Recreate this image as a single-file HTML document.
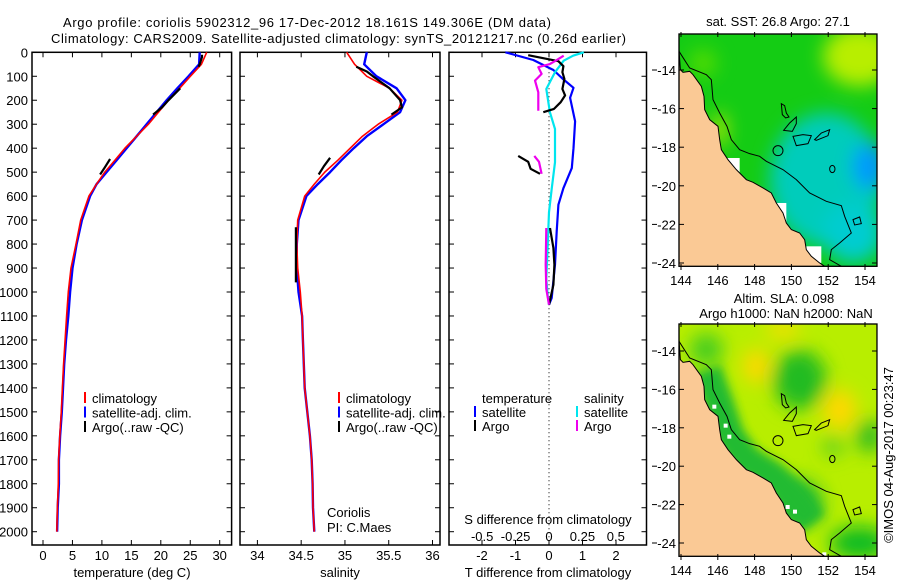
<!DOCTYPE html>
<html><head><meta charset="utf-8">
<style>
html,body{margin:0;padding:0;background:#fff;}
svg{display:block;font-family:"Liberation Sans",Arial,sans-serif;}
text{font-size:13px;fill:#000;}
</style></head>
<body>
<svg id="fig" width="900" height="580" viewBox="0 0 900 580" xmlns="http://www.w3.org/2000/svg">
<defs>
<filter id="blur" x="-50%" y="-50%" width="200%" height="200%"><feGaussianBlur stdDeviation="28"/></filter>
<filter id="blur2" x="-50%" y="-50%" width="200%" height="200%"><feGaussianBlur stdDeviation="14"/></filter>
<clipPath id="mclip"><rect x="118" y="103" width="594" height="697"/></clipPath>
</defs>
<text x="63" y="27" textLength="488">Argo profile: coriolis 5902312_96 17-Dec-2012 18.161S 149.306E (DM data)</text>
<text x="51" y="43" textLength="575">Climatology: CARS2009. Satellite-adjusted climatology: synTS_20121217.nc (0.26d earlier)</text>
<g id="panels"></g>
<g id="maps"></g>
</svg>
<script>
// ---------- data ----------
const depthClim = [0,50,100,150,200,250,300,350,400,450,500,550,600,700,800,900,1000,1100,1200,1300,1400,1500,1600,1700,1800,1900,2000];
const tempClim  = [27.8,26.9,25.0,23.2,21.3,19.6,17.9,15.9,13.9,12.2,10.5,9.1,7.8,6.4,5.6,4.75,4.3,4.0,3.75,3.5,3.3,3.1,2.85,2.65,2.6,2.45,2.35];
const tempSat   = [26.6,26.5,24.7,22.8,21.0,19.3,17.6,15.9,14.2,12.5,10.8,9.1,8.0,6.6,5.7,5.0,4.6,4.3,3.9,3.6,3.4,3.2,2.9,2.7,2.7,2.5,2.4];
const salClim   = [35.02,35.11,35.25,35.51,35.65,35.60,35.38,35.20,35.06,34.92,34.77,34.65,34.54,34.46,34.45,34.46,34.49,34.51,34.52,34.53,34.54,34.57,34.60,34.62,34.63,34.635,34.65];
const salSat    = [35.25,35.22,35.36,35.59,35.69,35.63,35.44,35.25,35.10,34.96,34.83,34.69,34.56,34.47,34.45,34.45,34.47,34.51,34.52,34.53,34.54,34.57,34.60,34.62,34.63,34.635,34.65];
const depthArgo = [10,20,50,60,null,150,200,230,260,null,445,480,510];
const tempArgo  = [27.0,27.0,26.6,26.4,null,23.3,21.3,20.2,18.7,null,11.4,10.5,9.7];
const depthArgoS= [60,80,100,150,200,230,260,null,440,475,510,null,730,850,960];
const salArgo   = [35.13,35.25,35.32,35.51,35.63,35.65,35.53,null,34.83,34.76,34.70,null,34.44,34.44,34.44];
const depthDT   = [0,32,74,113,148,190,288,400,483,567,636,747,886,1025,1053];
const dTsat     = [-1.3,-0.47,0.13,0.43,0.73,0.63,0.78,0.73,0.68,0.43,0.28,0.23,0.18,0.08,0.0];
const depthDS   = [0,14,35,83,153,250,320,459,570,667,806,945,1015,1053];
const dSsat     = [0.26,0.18,0.11,0.045,-0.02,0.007,0.045,0.045,0.02,0.0,-0.01,-0.02,-0.01,0.0];
const depthDTA  = [12,37,58,83,111,153,180,208,236,250,null,432,457,486,507,null,733,816,886,970,1053];
const dTargo    = [-0.62,0.28,0.43,0.40,0.46,0.40,0.48,0.35,0.15,-0.17,null,-0.92,-0.62,-0.55,-0.27,null,0.03,0.13,0.16,0.13,0.0];
const depthDSA  = [14,35,49,62,90,118,167,244,null,432,457,507,null,733,886,987,1053];
const dSargo    = [0.11,0.05,0.007,-0.08,-0.055,-0.105,-0.08,-0.08,null,-0.11,-0.075,-0.055,null,-0.02,-0.025,-0.02,0.0];
const depthTicks = [0,100,200,300,400,500,600,700,800,900,1000,1100,1200,1300,1400,1500,1600,1700,1800,1900,2000];
const tempTicks = [0,5,10,15,20,25,30];
const salTicks  = [34,34.5,35,35.5,36];
const salTickLabels = ["34","34.5","35","35.5","36"];
const dTTicks = [-2,-1,0,1,2];
const dSTicks = [-0.5,-0.25,0,0.25,0.5];
const dSTickLabels = ["-0.5","-0.25","0","0.25","0.5"];
const latTicks = [-14,-16,-18,-20,-22,-24];
const lonTicks = [144,146,148,150,152,154];

// ---------- axes ----------
const yD = d => 52.3 + d*0.2397;
const xT = t => 43 + t*5.89;
const xS = s => 257.4 + (s-34)*87.55;
const xdT = v => 549 + v*33.5;
const xdS = v => 549 + v*133.7;
const NS='http://www.w3.org/2000/svg';
const P=document.getElementById('panels');
function mk(tag,attrs,parent){const e=document.createElementNS(NS,tag);for(const k in attrs)e.setAttribute(k,attrs[k]);(parent||P).appendChild(e);return e;}
function txt(x,y,s,anchor,parent){const e=mk('text',{x:x,y:y,'text-anchor':anchor||'start'},parent);e.textContent=s;return e;}

const panels=[{x0:32,x1:231.6,name:'temperature-panel'},{x0:240,x1:440,name:'salinity-panel'},{x0:449,x1:646.5,name:'difference-panel'}];
const yTop=52.3,yBot=545;
panels.forEach((p,i)=>{
  const f=mk('rect',{x:p.x0,y:yTop,width:p.x1-p.x0,height:yBot-yTop,fill:'none',stroke:'#000','stroke-width':1.5});
  
  
  depthTicks.forEach(d=>{
    mk('line',{x1:p.x0,x2:p.x0+5,y1:yD(d),y2:yD(d),stroke:'#000'});
    mk('line',{x1:p.x1-5,x2:p.x1,y1:yD(d),y2:yD(d),stroke:'#000'});
  });
});
depthTicks.forEach(d=>{
  const t=txt(28,yD(d)+5,String(d),'end');
  
  
});
function xticks(vals,fx,labels,ly){
  vals.forEach((v,i)=>{
    const x=fx(v);
    mk('line',{x1:x,x2:x,y1:yTop,y2:yTop+5,stroke:'#000'});
    mk('line',{x1:x,x2:x,y1:yBot-5,y2:yBot,stroke:'#000'});
    if(labels){const t=txt(x,ly,labels[i],'middle');
      
      }
  });
}
xticks(tempTicks,xT,tempTicks.map(String),560);
xticks(salTicks,xS,salTickLabels,560);
xticks(dTTicks,xdT,dTTicks.map(String),560);
dSTicks.forEach((v,i)=>{const t=txt(xdS(v),541,dSTickLabels[i],'middle');
  
  });
let t;
t=txt(132,577,'temperature (deg C)','middle');
t=txt(340,577,'salinity','middle');
t=txt(548,577,'T difference from climatology','middle');
t=txt(548,524,'S difference from climatology','middle');
t=txt(327,517,'Coriolis');
t=txt(327,532,'PI: C.Maes');

// zero dotted line
const z=mk('line',{x1:xdT(0),x2:xdT(0),y1:yTop,y2:yBot-5,stroke:'#000','stroke-dasharray':'1,3'});



function series(depths,vals,fx,color,w,name){
  let d='',pen=false;
  depths.forEach((dp,i)=>{
    if(dp===null||vals[i]===null){pen=false;return;}
    d+=(pen?'L':'M')+fx(vals[i]).toFixed(1)+','+yD(dp).toFixed(1);pen=true;
  });
  const e=mk('path',{d:d,fill:'none',stroke:color,'stroke-width':w,'stroke-linejoin':'round'});
  
  
}
series(depthClim,tempSat,xT,'#0000ff',2.4,'temp-satellite-line');
series(depthClim,tempClim,xT,'#ff0000',1.6,'temp-climatology-line');
series(depthArgo,tempArgo,xT,'#000',2.2,'temp-argo-line');
series(depthClim,salSat,xS,'#0000ff',2.4,'sal-satellite-line');
series(depthClim,salClim,xS,'#ff0000',1.6,'sal-climatology-line');
series(depthArgoS,salArgo,xS,'#000',2.2,'sal-argo-line');
series(depthDT,dTsat,xdT,'#0000ff',2.2,'tdiff-satellite-line');
series(depthDS,dSsat,xdS,'#00e5ee',2.2,'sdiff-satellite-line');
series(depthDTA,dTargo,xdT,'#000',2.2,'tdiff-argo-line');
series(depthDSA,dSargo,xdS,'#ee00ee',2.2,'sdiff-argo-line');

function legItem(x,y,color,label,name){
  const g=mk('g',{});
  
  
  mk('line',{x1:x,x2:x,y1:y-11,y2:y,stroke:color,'stroke-width':2},g);
  txt(x+7,y,label,'start',g);
}
[[85,'climatology','#ff0000'],[85,'satellite-adj. clim.','#0000ff'],[85,'Argo(..raw -QC)','#000']].forEach((a,i)=>legItem(a[0],403+i*14.5,a[2],a[1],'temp-legend-entry'));
[[339,'climatology','#ff0000'],[339,'satellite-adj. clim.','#0000ff'],[339,'Argo(..raw -QC)','#000']].forEach((a,i)=>legItem(a[0],403+i*14.5,a[2],a[1],'sal-legend-entry'));
t=txt(482,403,'temperature');
t=txt(584,403,'salinity');
legItem(475,417,'#0000ff','satellite','tdiff-legend-satellite');
legItem(475,431,'#000','Argo','tdiff-legend-argo');
legItem(577,417,'#00e5ee','satellite','sdiff-legend-satellite');
legItem(577,431,'#ee00ee','Argo','sdiff-legend-argo');

// ---------- maps ----------
const M=document.getElementById('maps');
const land="118,150 122,210 130,218 150,215 160,225 185,260 193,290 195,330 210,360 235,380 240,420 245,450 265,480 290,510 320,540 340,548 370,565 395,580 410,610 430,640 440,670 455,690 480,700 495,720 500,750 515,770 540,790 555,800 118,800";
const shelf="118,155 150,205 200,225 215,240 220,300 240,340 262,380 275,420 300,450 330,462 360,470 380,485 430,510 470,540 510,580 560,605 605,618 615,650 635,700 600,730 575,750 570,780 605,800";
function drawMap(oy,type,name){
  const g=mk('g',{transform:`translate(679,${oy}) scale(0.3333) translate(-118,-103)`},M);
  
  
  const c=mk('g',{'clip-path':'url(#mclip)'},g);
  if(type===1){
    mk('rect',{x:118,y:103,width:594,height:697,fill:'#14cc14'},c);
    const b=mk('g',{filter:'url(#blur)'},c);
    mk('ellipse',{cx:660,cy:170,rx:110,ry:90,fill:'#b8ee00'},b);
    mk('ellipse',{cx:190,cy:190,rx:40,ry:40,fill:'#55dd00'},b);
    mk('ellipse',{cx:560,cy:540,rx:170,ry:200,fill:'#00ccbb'},b);
    mk('ellipse',{cx:640,cy:700,rx:90,ry:90,fill:'#00ccd0'},b);
    mk('ellipse',{cx:690,cy:500,rx:50,ry:70,fill:'#0099ff'},b);
    mk('ellipse',{cx:240,cy:390,rx:18,ry:50,fill:'#ddee00'},b);
    mk('rect',{x:255,y:475,width:45,height:45,fill:'#fff'},c);
    mk('rect',{x:410,y:610,width:30,height:60,fill:'#fff'},c);
    mk('rect',{x:500,y:740,width:45,height:50,fill:'#fff'},c);
  } else {
    mk('rect',{x:118,y:103,width:594,height:697,fill:'#b8ee00'},c);
    const b=mk('g',{filter:'url(#blur)'},c);
    mk('ellipse',{cx:350,cy:230,rx:40,ry:50,fill:'#ffd800'},b);
    mk('ellipse',{cx:430,cy:120,rx:50,ry:30,fill:'#eee000'},b);
    mk('ellipse',{cx:600,cy:360,rx:50,ry:60,fill:'#ffd800'},b);
    mk('ellipse',{cx:480,cy:270,rx:80,ry:90,fill:'#22bb22'},b);
    mk('ellipse',{cx:200,cy:180,rx:50,ry:50,fill:'#44cc22'},b);
    mk('ellipse',{cx:690,cy:440,rx:40,ry:50,fill:'#33bb22'},b);
    mk('ellipse',{cx:580,cy:470,rx:30,ry:30,fill:'#55cc22'},b);
    mk('ellipse',{cx:660,cy:760,rx:90,ry:50,fill:'#11bb22'},b);
    mk('ellipse',{cx:470,cy:640,rx:80,ry:70,fill:'#22bb33'},b);
    const b2=mk('g',{filter:'url(#blur2)'},c);
    mk('polyline',{points:"200,240 240,350 270,440 320,510 400,560 460,620 520,700",fill:'none',stroke:'#22bb33','stroke-width':90},b2);
    [[218,345],[252,402],[263,435],[438,646],[460,660],[548,788]].forEach(p=>mk('rect',{x:p[0],y:p[1],width:12,height:12,fill:'#fff'},c));
  }
  mk('polygon',{points:land,fill:'#fac995'},c);
  mk('polyline',{points:land.split(' ').slice(0,-1).join(' '),fill:'none',stroke:'#000','stroke-width':3},c);
  mk('polyline',{points:shelf,fill:'none',stroke:'#000','stroke-width':3},c);
  const reefs=["425,312 435,318 440,340 448,352 438,355 428,345","432,392 450,370 470,352 470,372 458,395","460,410 490,405 515,408 505,432 470,438","525,420 545,400 570,390 565,408 530,422","640,660 660,652 665,672 645,676"];
  reefs.forEach(r=>mk('polygon',{points:r,fill:'none',stroke:'#000','stroke-width':3},c));
  mk('circle',{cx:415,cy:453,r:15,fill:'none',stroke:'#000','stroke-width':3},c);
  mk('ellipse',{cx:578,cy:508,rx:8,ry:11,fill:'none',stroke:'#000','stroke-width':3},c);
  mk('rect',{x:118,y:103,width:594,height:697,fill:'none',stroke:'#000','stroke-width':4},g);
  const yL=lat=>oy+(oy===34?36:27)+(-14-lat)*(oy===34?19.3:19.2);
  const xL=lon=>681+(lon-144)*18.4;
  latTicks.forEach(l=>{
    const y=yL(l);
    mk('line',{x1:679,x2:684,y1:y,y2:y,stroke:'#000'},M);
    mk('line',{x1:872,x2:877,y1:y,y2:y,stroke:'#000'},M);
    mk('line',{x1:652,x2:657,y1:y,y2:y,stroke:'#000'},M);
    const tt=txt(676,y+5,String(l),'end',M);
    
    
  });
  lonTicks.forEach(l=>{
    const x=xL(l);
    mk('line',{x1:x,x2:x,y1:oy-2,y2:oy+3,stroke:'#000'},M);
    mk('line',{x1:x,x2:x,y1:oy+230,y2:oy+236,stroke:'#000'},M);
    const tt=txt(x,oy+251,String(l),'middle',M);
    
    
  });
}
drawMap(34,1,'sst-map');
drawMap(324,2,'sla-map');
t=txt(778,26,'sat. SST: 26.8 Argo: 27.1','middle',M);
t=txt(784,303,'Altim. SLA: 0.098','middle',M);
t=txt(786,318,'Argo h1000: NaN h2000: NaN','middle',M);
t=txt(0,0,'©IMOS 04-Aug-2017 00:23:47','middle',M);t.setAttribute('transform','translate(893,455) rotate(-90)');

</script>
</body></html>
